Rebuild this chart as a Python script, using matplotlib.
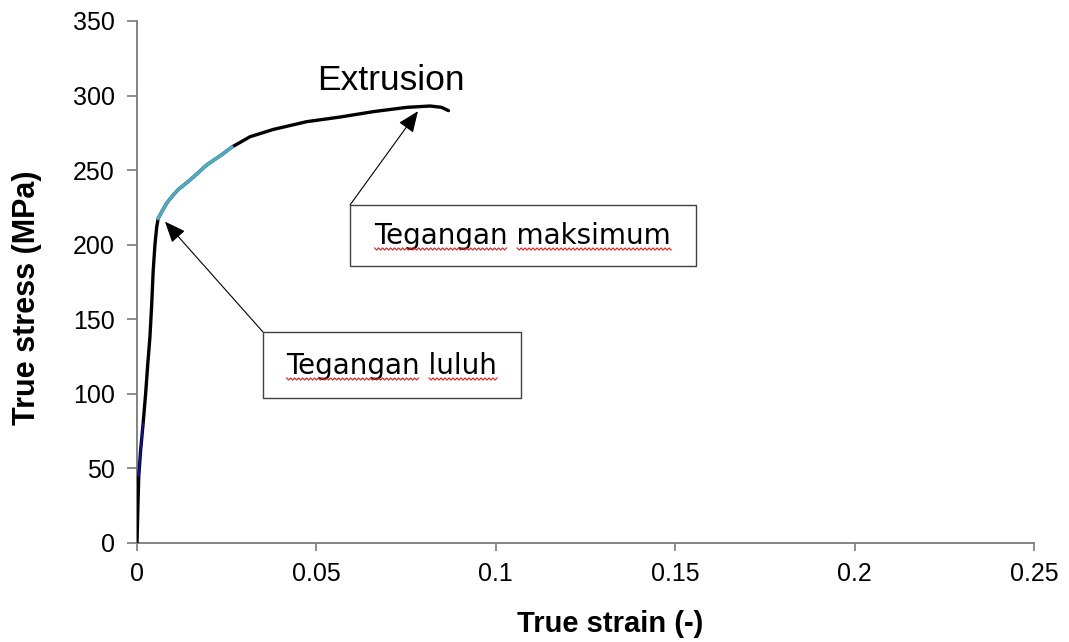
import numpy as np
import matplotlib.pyplot as plt
import matplotlib.font_manager as fm
from matplotlib.patches import Rectangle
from matplotlib.lines import Line2D
from matplotlib.transforms import IdentityTransform

# curve (true strain, true stress MPa)
strain = [0, 0.0003, 0.0005, 0.0010, 0.0017, 0.0024, 0.0030, 0.0036, 0.0041, 0.0045,
          0.0050, 0.0055, 0.0059, 0.0070, 0.0083, 0.0100, 0.0115, 0.0148, 0.0194,
          0.0240, 0.0264, 0.0315, 0.0380, 0.0473, 0.0566, 0.0658, 0.0752, 0.0817,
          0.0849, 0.0868]
stress = [0, 29, 45, 62, 80, 100, 120, 138, 160, 182,
          200, 212, 217.6, 222.5, 228, 233, 237, 243.4, 253.4,
          261, 265.4, 272.4, 277.3, 282.5, 285.6, 289.2, 292.1, 293,
          292.1, 289.9]
cyan_from, cyan_to = 0.0059, 0.0264     # coloured stretch of the curve
blue_from, blue_to = 0.0004, 0.0018

xticks = [0, 0.05, 0.1, 0.15, 0.2, 0.25]
xtick_labels = ['0', '0.05', '0.1', '0.15', '0.2', '0.25']
yticks = [0, 50, 100, 150, 200, 250, 300, 350]

curve_label = 'Extrusion'
notes = ['Tegangan maksimum', 'Tegangan luluh']
note_targets = [(0.0783, 289.5), (0.0078, 215.5)]   # where the arrows point

W, H = 1069, 642
names = {f.name for f in fm.fontManager.ttflist}
narrow = 'Liberation Sans Narrow' if 'Liberation Sans Narrow' in names else 'Liberation Sans'
plt.rcParams['font.family'] = ['Liberation Sans', 'DejaVu Sans']

fig = plt.figure(figsize=(W / 100, H / 100), dpi=100)
ax = fig.add_axes([137 / W, 1 - 543 / H, (1034 - 137) / W, (543 - 21) / H])

s = np.array(strain)
t = np.array(stress)
ax.plot(s, t, color='black', lw=2.4, solid_capstyle='round', solid_joinstyle='round', zorder=3)
m = (s >= cyan_from) & (s <= cyan_to)
ax.plot(s[m], t[m], color='#4bacc6', lw=2.4, solid_joinstyle='round', zorder=4)
m = (s >= blue_from) & (s <= blue_to)
ax.plot(s[m], t[m], color='#1010c0', lw=1.2, zorder=4)

ax.set_xlim(0, 0.25)
ax.set_ylim(0, 350)
ax.set_xticks(xticks)
ax.set_xticklabels(xtick_labels, fontsize=18, family=narrow)
ax.set_yticks(yticks)
ax.set_yticklabels([str(v) for v in yticks], fontsize=18)
for side in ['top', 'right']:
    ax.spines[side].set_visible(False)
for side in ['left', 'bottom']:
    ax.spines[side].set_color('#7a7a7a')
    ax.spines[side].set_linewidth(1.3)
ax.tick_params(axis='y', direction='out', length=7, width=1.2, color='#7a7a7a', pad=9)
ax.tick_params(axis='x', direction='out', length=6, width=1.2, color='#7a7a7a', pad=8)

pix = IdentityTransform()
fig.text(27, H - 298, 'True stress (MPa)', rotation=90, ha='center', va='center',
         fontsize=22, fontweight='bold', transform=pix)
fig.text(610, H - 624, 'True strain (-)', ha='center', va='center',
         fontsize=21, fontweight='bold', family=narrow, transform=pix)
fig.text(391, H - 80, curve_label, ha='center', va='center', fontsize=25.5, transform=pix)

# note boxes: (left, top, right, bottom) in image pixels, text baseline
boxes = [(350, 205, 696, 266, 244), (263, 332, 521, 398, 374)]
texts = []
for note, target, (l, tp, r, b, base) in zip(notes, note_targets, boxes):
    fig.add_artist(Rectangle((l, H - b), r - l, b - tp, transform=pix,
                             facecolor='white', edgecolor='#404040', lw=1.0, zorder=5))
    ax.annotate('', xy=target, xytext=(l, H - tp), textcoords='figure pixels',
                arrowprops=dict(arrowstyle='-|>,head_length=0.65,head_width=0.27',
                                color='black', lw=0.8, mutation_scale=20,
                                shrinkA=0, shrinkB=0), zorder=6)
    txt = fig.text((l + r) / 2, H - base, note, ha='center', va='baseline',
                   fontsize=20, family='DejaVu Sans', transform=pix, zorder=7)
    texts.append((txt, base))

# red spell-check squiggles under each word
fig.canvas.draw()
rend = fig.canvas.get_renderer()
for txt, base in texts:
    bb = txt.get_window_extent(rend)
    words = txt.get_text().split()
    tmp = fig.text(0, 0, words[0], fontsize=20, family='DejaVu Sans')
    w1 = tmp.get_window_extent(rend).width
    tmp.set_text(words[1])
    w2 = tmp.get_window_extent(rend).width
    tmp.remove()
    y = H - (base + 5)
    for x0, x1 in [(bb.x0, bb.x0 + w1), (bb.x1 - w2, bb.x1)]:
        xs = np.arange(x0, x1, 2.0)
        ys = y + np.where(np.arange(len(xs)) % 2 == 0, 1.1, -1.1)
        fig.add_artist(Line2D(xs, ys, transform=pix, color='#e02020', lw=0.8, zorder=8))

fig.savefig('out.png', dpi=100)
